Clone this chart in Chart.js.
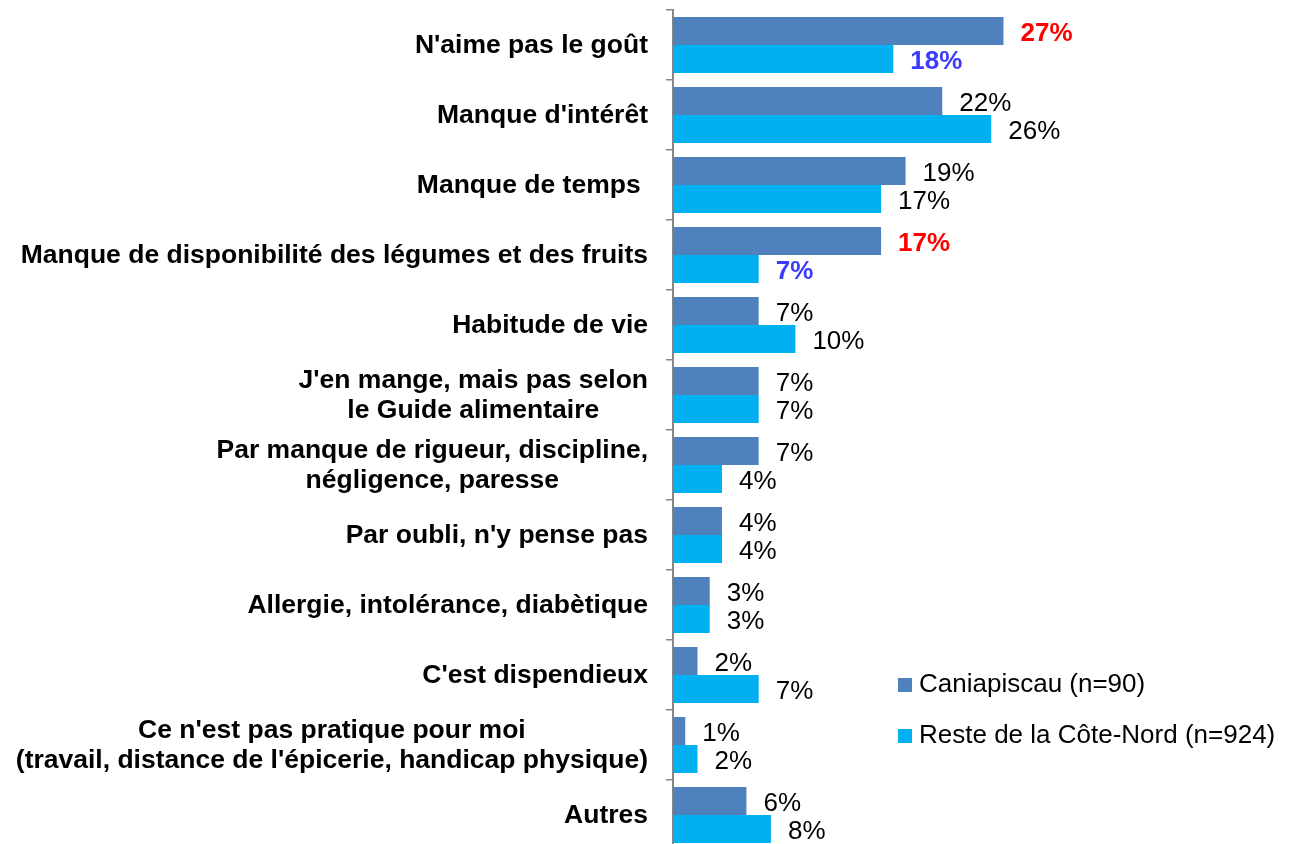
<!DOCTYPE html>
<html>
<head>
<meta charset="utf-8">
<script src="https://cdn.jsdelivr.net/npm/chart.js@4.4.1/dist/chart.umd.min.js"></script>
<style>
html, body { margin: 0; padding: 0; background: #fff; overflow: hidden; }
#wrap { width: 1299px; height: 850px; position: relative; }
</style>
</head>
<body>
<div id="wrap"><canvas id="raisons"></canvas></div>
<script>
// Raisons de ne pas manger assez de légumes et de fruits
var categories = [
    "N'aime pas le goût",
    "Manque d'intérêt",
    "Manque de temps ",
    "Manque de disponibilité des légumes et des fruits",
    "Habitude de vie",
    ["J'en mange, mais pas selon", "le Guide alimentaire"],
    ["Par manque de rigueur, discipline,", "négligence, paresse"],
    "Par oubli, n'y pense pas",
    "Allergie, intolérance, diabètique",
    "C'est dispendieux",
    ["Ce n'est pas pratique pour moi", "(travail, distance de l'épicerie, handicap physique)"],
    "Autres"
];
var caniapiscau = [27, 22, 19, 17, 7, 7, 7, 4, 3, 2, 1, 6];
var resteCoteNord = [18, 26, 17, 7, 10, 7, 4, 4, 3, 7, 2, 8];
var nomsSeries = ['Caniapiscau (n=90)', 'Reste de la Côte-Nord (n=924)'];
// écarts significatifs (étiquettes en gras)
var caniaGras = [0, 3];
var resteGras = [0, 3];

var FONT = "'Liberation Sans', Arial, sans-serif";

// étiquettes de l'axe : lignes centrées, bloc aligné à droite
var etiquettesY = {
    id: 'etiquettesY',
    afterDraw: function (chart) {
        var ctx = chart.ctx, y = chart.scales.y;
        ctx.save();
        ctx.font = 'bold 26.5px ' + FONT;
        ctx.fillStyle = '#000';
        ctx.textAlign = 'center';
        ctx.textBaseline = 'middle';
        categories.forEach(function (lab, i) {
            var lignes = Array.isArray(lab) ? lab : [lab];
            var w = Math.max.apply(null, lignes.map(function (l) { return ctx.measureText(l).width; }));
            var cx = y.right - 25 - w / 2;
            var cy = y.getPixelForTick(i) + 1;
            lignes.forEach(function (l, k) {
                ctx.fillText(l, cx, cy + (k - (lignes.length - 1) / 2) * 30);
            });
        });
        ctx.restore();
    }
};

// valeurs au bout des barres
var valeurs = {
    id: 'valeurs',
    afterDatasetsDraw: function (chart) {
        var ctx = chart.ctx;
        ctx.save();
        ctx.textAlign = 'left';
        ctx.textBaseline = 'middle';
        chart.data.datasets.forEach(function (ds, d) {
            chart.getDatasetMeta(d).data.forEach(function (bar, i) {
                var gras = ds.gras.indexOf(i) >= 0;
                ctx.font = (gras ? 'bold ' : '') + '26px ' + FONT;
                ctx.fillStyle = gras ? ds.couleurGras : '#000';
                ctx.fillText(ds.data[i] + '%', bar.x + 17, bar.y + 3);
            });
        });
        ctx.restore();
    }
};

// légende
var legende = {
    id: 'legende',
    afterDraw: function (chart) {
        var ctx = chart.ctx;
        ctx.save();
        ctx.font = '26px ' + FONT;
        ctx.textBaseline = 'middle';
        chart.data.datasets.forEach(function (ds, d) {
            var y = 685 + d * 51;
            ctx.fillStyle = ds.backgroundColor;
            ctx.fillRect(898, y - 7, 14, 14);
            ctx.fillStyle = '#000';
            ctx.fillText(ds.label, 919, y);
        });
        ctx.restore();
    }
};

var ctx = document.getElementById('raisons').getContext('2d');
var graphique = new Chart(ctx, {
    type: 'bar',
    data: {
        labels: categories,
        datasets: [{
            label: nomsSeries[0],
            data: caniapiscau,
            backgroundColor: '#4F81BD',
            gras: caniaGras,
            couleurGras: '#FF0000',
            barPercentage: 1,
            categoryPercentage: 0.8
        }, {
            label: nomsSeries[1],
            data: resteCoteNord,
            backgroundColor: '#00B0F0',
            gras: resteGras,
            couleurGras: '#3B3BFF',
            barPercentage: 1,
            categoryPercentage: 0.8
        }]
    },
    options: {
        indexAxis: 'y',
        responsive: true,
        maintainAspectRatio: false,
        animation: false,
        layout: { padding: { top: 10, right: 14, bottom: 0, left: 0 } },
        plugins: {
            legend: { display: false },
            tooltip: { enabled: false }
        },
        scales: {
            x: { display: false, min: 0, max: 50 },
            y: {
                ticks: { display: false },
                grid: { drawOnChartArea: false, drawTicks: true, tickLength: 7, color: '#878787', lineWidth: 1.5, offset: true },
                border: { display: true, color: '#878787', width: 2 },
                afterFit: function (s) { s.width = 673; }
            }
        }
    },
    plugins: [valeurs, etiquettesY, legende]
});
</script>
</body>
</html>
